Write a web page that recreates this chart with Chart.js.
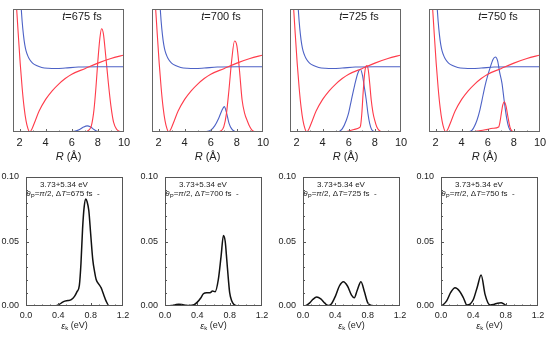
<!DOCTYPE html>
<html>
<head>
<meta charset="utf-8">
<script src="https://cdn.jsdelivr.net/npm/chart.js@4/dist/chart.umd.min.js"></script>
<style>
  body { margin: 0; background: #fff; width: 550px; height: 341px; position: relative; overflow: hidden; }
</style>
</head>
<body>
<script>
// time delays of the four columns
const times = ['675', '700', '725', '750'];
const rTicks = [2, 4, 6, 8, 10];
const epsTicks = [0, 0.4, 0.8, 1.2];
const probTicks = [0, 0.05, 0.1];

// potential curves (same in every top panel), arbitrary units 0..100
const blueR = [2.1, 2.2, 2.3, 2.4, 2.5, 2.65, 2.8, 3.0, 3.3, 3.7, 4.2, 4.8, 5.5, 6.5, 8, 10];
const blueV = [105, 90, 79, 71, 66, 61.5, 58.5, 56, 54, 52.5, 51.8, 51.6, 52, 52.8, 53, 53];
const redR = [1.75, 1.9, 2.05, 2.2, 2.35, 2.5, 2.65, 2.78, 2.95, 3.2, 3.5, 4, 4.5, 5, 5.5, 6, 7, 8, 9, 10];
const redV = [105, 80, 56, 36, 20, 9, 2.5, 0, 2.5, 9, 17, 26.5, 33.5, 39, 43.5, 47, 51.5, 56, 59.7, 62.6];

// wave packets
const red675R = [5, 7.0, 7.3, 7.5, 7.7, 7.85, 8.0, 8.15, 8.28, 8.42, 8.6, 8.8, 9.0, 9.2, 9.45, 9.7, 10];
const red675V = [0, 0, 1.5, 5, 18, 36, 58, 76, 84, 80, 62, 40, 21, 8, 2, 0.3, 0];
const blue675R = [5.6, 6.2, 6.6, 6.9, 7.18, 7.45, 7.7, 7.95, 8.2];
const blue675V = [0, 0.5, 2, 4, 5, 4, 2, 0.5, 0];

const red700R = [5, 6.5, 6.8, 7.0, 7.2, 7.4, 7.6, 7.82, 8.0, 8.2, 8.4, 8.6, 8.8, 9.0, 9.2, 9.5];
const red700V = [0, 0, 1, 4.3, 15, 35, 58, 74, 70, 50, 26, 15, 9, 4, 1, 0];
const blue700R = [5.5, 6.0, 6.3, 6.6, 6.85, 7.04, 7.2, 7.4, 7.6, 7.85, 8.1];
const blue700V = [0, 1.5, 5, 11, 17.5, 20.6, 16, 7, 2.5, 0.5, 0];

const red725R = [5, 5.6, 6.0, 6.4, 6.8, 6.9, 7.0, 7.1, 7.2, 7.3, 7.39, 7.5, 7.6, 7.72, 7.85, 7.98, 8.15, 8.35, 8.6];
const red725V = [0, 0, 0.8, 2, 3.5, 5, 15, 32, 46, 53, 54, 50, 40, 26, 16, 9.8, 4, 1, 0];
const blue725R = [5.2, 5.5, 5.82, 6.0, 6.2, 6.45, 6.7, 6.89, 7.05, 7.2, 7.34, 7.47, 7.6, 7.75, 7.95, 8.2];
const blue725V = [0, 2.5, 9.8, 16, 26, 38, 48, 51, 46, 36, 26, 15, 7, 2, 0.3, 0];

const red750R = [4.7, 5.2, 5.8, 6.4, 6.83, 6.95, 7.05, 7.15, 7.27, 7.4, 7.55, 7.7, 7.85, 8.1];
const red750V = [0, 0.8, 1.8, 3, 4, 9, 16, 22, 24.6, 21, 12, 4, 0.8, 0];
const blue750R = [4.5, 4.8, 5.18, 5.4, 5.56, 5.8, 6.0, 6.2, 6.4, 6.58, 6.75, 6.92, 7.09, 7.25, 7.47, 7.6, 7.8, 8.0];
const blue750V = [0, 1.5, 9.8, 18, 26, 38, 46, 53, 59, 61, 58, 48, 39.6, 26, 9.8, 4, 0.5, 0];

// photoelectron spectra
const spec675E = [0, 0.35, 0.4, 0.44, 0.48, 0.52, 0.56, 0.6, 0.63, 0.66, 0.68, 0.7, 0.72, 0.74, 0.755, 0.777, 0.8, 0.826, 0.85, 0.868, 0.9, 0.93, 0.96, 0.99, 1.03, 1.2];
const spec675P = [0, 0, 0.0008, 0.0025, 0.0038, 0.0042, 0.005, 0.0075, 0.011, 0.016, 0.033, 0.06, 0.077, 0.083, 0.081, 0.074, 0.056, 0.036, 0.026, 0.0205, 0.017, 0.014, 0.009, 0.004, 0, 0];
const spec700E = [0, 0.08, 0.13, 0.17, 0.21, 0.26, 0.3, 0.36, 0.4, 0.44, 0.475, 0.517, 0.558, 0.587, 0.62, 0.66, 0.694, 0.723, 0.745, 0.764, 0.785, 0.8, 0.825, 0.85, 0.9, 1.2];
const spec700P = [0, 0.0003, 0.001, 0.0014, 0.0012, 0.0005, 0.0003, 0.001, 0.003, 0.006, 0.0095, 0.0103, 0.0103, 0.0116, 0.011, 0.0206, 0.0387, 0.0546, 0.05, 0.036, 0.02, 0.0103, 0.004, 0.0013, 0, 0];
const spec725E = [0, 0.04, 0.08, 0.12, 0.17, 0.22, 0.27, 0.31, 0.35, 0.4, 0.45, 0.5, 0.55, 0.6, 0.635, 0.67, 0.717, 0.76, 0.8, 0.85, 0.9, 1.2];
const spec725P = [0, 0.0005, 0.0022, 0.005, 0.007, 0.0055, 0.0022, 0.0003, 0.0015, 0.0075, 0.0155, 0.0188, 0.0155, 0.0085, 0.0064, 0.012, 0.0188, 0.011, 0.0026, 0.0004, 0, 0];
const spec750E = [0, 0.03, 0.07, 0.12, 0.174, 0.23, 0.277, 0.32, 0.36, 0.4, 0.45, 0.496, 0.545, 0.58, 0.607, 0.65, 0.7, 0.744, 0.78, 0.81, 0.85, 1.2];
const spec750P = [0, 0.0012, 0.004, 0.0105, 0.0141, 0.0115, 0.0064, 0.0008, 0.0015, 0.005, 0.015, 0.024, 0.009, 0.0025, 0.0008, 0.0012, 0.0022, 0.0026, 0.0015, 0.0003, 0, 0];

const redPackets = [[red675R, red675V], [red700R, red700V], [red725R, red725V], [red750R, red750V]];
const bluePackets = [[blue675R, blue675V], [blue700R, blue700V], [blue725R, blue725V], [blue750R, blue750V]];
const spectra = [[spec675E, spec675P], [spec700E, spec700P], [spec725E, spec725P], [spec750E, spec750P]];

const FONT = '"Liberation Sans", Arial, sans-serif';
const RED = '#ff3b4a';
const BLUE = '#4d62c6';
const INK = '#222';

function pts(xs, ys) {
  return xs.map((x, i) => ({ x: x, y: ys[i] }));
}

function fontFor(p, size) {
  const s = p.sub ? Math.round(size * 0.72) : size;
  return (p.it ? 'italic ' : '') + s + 'px ' + FONT;
}

function drawRich(ctx, parts, cx, cy, size) {
  let total = 0;
  parts.forEach(p => { ctx.font = fontFor(p, size); total += ctx.measureText(p.t).width; });
  let x = cx - total / 2;
  ctx.textAlign = 'left';
  ctx.textBaseline = 'middle';
  parts.forEach(p => {
    ctx.font = fontFor(p, size);
    ctx.fillText(p.t, x, cy + (p.sub ? size * 0.3 : 0));
    x += ctx.measureText(p.t).width;
  });
}

// frame, inward ticks and the mixed-style texts
const framePlugin = {
  id: 'frame',
  afterDatasetsDraw(chart, args, o) {
    const { ctx, chartArea: a, scales } = chart;
    ctx.save();
    ctx.strokeStyle = o.color;
    ctx.lineWidth = 1;
    ctx.strokeRect(a.left + 0.5, a.top + 0.5, a.width - 1, a.height - 1);
    ctx.beginPath();
    (o.xMarks || []).forEach(m => {
      const px = Math.round(scales.x.getPixelForValue(m[0])) + 0.5;
      ctx.moveTo(px, a.bottom);
      ctx.lineTo(px, a.bottom - m[1]);
    });
    (o.yMarks || []).forEach(m => {
      const py = Math.round(scales.y.getPixelForValue(m[0])) + 0.5;
      ctx.moveTo(a.left, py);
      ctx.lineTo(a.left + m[1], py);
    });
    ctx.stroke();
    ctx.restore();
  },
  afterDraw(chart, args, o) {
    const { ctx, chartArea: a } = chart;
    ctx.save();
    ctx.fillStyle = INK;
    (o.texts || []).forEach(t => {
      drawRich(ctx, t.parts, a.left + t.dx, a.top + t.dy, t.size);
    });
    if (o.axis) drawRich(ctx, o.axis.parts, (a.left + a.right) / 2, a.bottom + o.axis.dy, o.axis.size);
    ctx.restore();
  }
};

function noPad(s) {
  s.paddingTop = 0;
  s.paddingBottom = 0;
  s.paddingLeft = 0;
  s.paddingRight = 0;
}

function makeChart(plotLeft, plotTop, cfg) {
  const cv = document.createElement('canvas');
  const w = cfg.plotW + cfg.ml + cfg.mr;
  const h = cfg.plotH + cfg.mt + cfg.mb;
  cv.width = w;
  cv.height = h;
  cv.style.cssText = 'position:absolute;left:' + (plotLeft - cfg.ml) + 'px;top:' + (plotTop - cfg.mt) +
    'px;width:' + w + 'px;height:' + h + 'px';
  document.body.appendChild(cv);

  new Chart(cv, {
    type: 'line',
    data: { datasets: cfg.datasets },
    options: {
      responsive: false,
      animation: false,
      events: [],
      layout: { padding: { top: cfg.mt, right: cfg.mr, left: 0, bottom: 0 } },
      elements: { point: { radius: 0 }, line: { cubicInterpolationMode: 'monotone' } },
      plugins: {
        legend: { display: false },
        tooltip: { enabled: false },
        frame: cfg.frame
      },
      scales: {
        x: {
          type: 'linear',
          min: cfg.xMin,
          max: cfg.xMax,
          afterBuildTicks: s => { s.ticks = cfg.xTicks.map(v => ({ value: v })); },
          afterFit: s => { s.height = cfg.mb; noPad(s); },
          grid: { display: false, drawTicks: false },
          border: { display: false },
          ticks: {
            autoSkip: false, maxRotation: 0, padding: cfg.xPad, color: INK,
            font: { family: FONT, size: cfg.tickSize },
            callback: v => cfg.xFmt(v)
          }
        },
        y: {
          type: 'linear',
          min: cfg.yMin,
          max: cfg.yMax,
          afterBuildTicks: s => { s.ticks = cfg.yTicks.map(v => ({ value: v })); },
          afterFit: s => { s.width = cfg.ml; noPad(s); },
          grid: { display: false, drawTicks: false },
          border: { display: false },
          ticks: {
            display: cfg.yTicks.length > 0, autoSkip: false, padding: 7, color: INK,
            font: { family: FONT, size: cfg.tickSize },
            callback: v => v.toFixed(2)
          }
        }
      }
    },
    plugins: [framePlugin]
  });
}

const topLefts = [13, 152, 290, 429];
const botLefts = [26, 165, 303, 441];

times.forEach((t, i) => {
  const line = (xy, color) => ({ data: pts(xy[0], xy[1]), borderColor: color, borderWidth: 1.1, fill: false });
  makeChart(topLefts[i], 9, {
    plotW: 111, plotH: 123, ml: 10, mr: 10, mt: 5, mb: 34,
    xMin: 1.5, xMax: 10, xTicks: rTicks, xFmt: v => String(v), xPad: 4,
    yMin: 0, yMax: 100, yTicks: [], tickSize: 11,
    datasets: [
      line([redR, redV], RED),
      line([blueR, blueV], BLUE),
      line(redPackets[i], RED),
      line(bluePackets[i], BLUE)
    ],
    frame: {
      color: '#666',
      xMarks: [[2, 3], [3, 1.5], [4, 3], [5, 1.5], [6, 3], [7, 1.5], [8, 3], [9, 1.5]],
      texts: [{ dx: 69, dy: 8, size: 11, parts: [{ t: 't', it: true }, { t: '=' + t + ' fs' }] }],
      axis: { dy: 25, size: 11, parts: [{ t: 'R', it: true }, { t: ' (Å)' }] }
    }
  });

  const xm = [];
  for (let k = 1; k < 12; k++) xm.push([k / 10, k % 4 === 0 ? 3 : 1.5]);
  const ym = [];
  for (let k = 1; k < 10; k++) ym.push([k / 100, k === 5 ? 3 : 2]);
  makeChart(botLefts[i], 177, {
    plotW: 97, plotH: 129, ml: 26, mr: 10, mt: 5, mb: 30,
    xMin: 0, xMax: 1.2, xTicks: epsTicks, xFmt: v => v.toFixed(1), xPad: 4,
    yMin: 0, yMax: 0.1, yTicks: probTicks, tickSize: 9,
    datasets: [
      { data: pts(spectra[i][0], spectra[i][1]), borderColor: '#111', borderWidth: 1.5, fill: false }
    ],
    frame: {
      color: '#555',
      xMarks: xm,
      yMarks: ym,
      texts: [
        { dx: 38, dy: 8, size: 8, parts: [{ t: '3.73+5.34 eV' }] },
        { dx: 37, dy: 16.5, size: 8, parts: [
          { t: 'θ', it: true }, { t: 'P', sub: true }, { t: '=' }, { t: 'π', it: true }, { t: '/2, Δ' },
          { t: 'T', it: true }, { t: '=' + t + ' fs  -' }
        ] }
      ],
      axis: { dy: 20, size: 9, parts: [{ t: 'ε', it: true }, { t: 'k', sub: true }, { t: ' (eV)' }] }
    }
  });
});
</script>
</body>
</html>
